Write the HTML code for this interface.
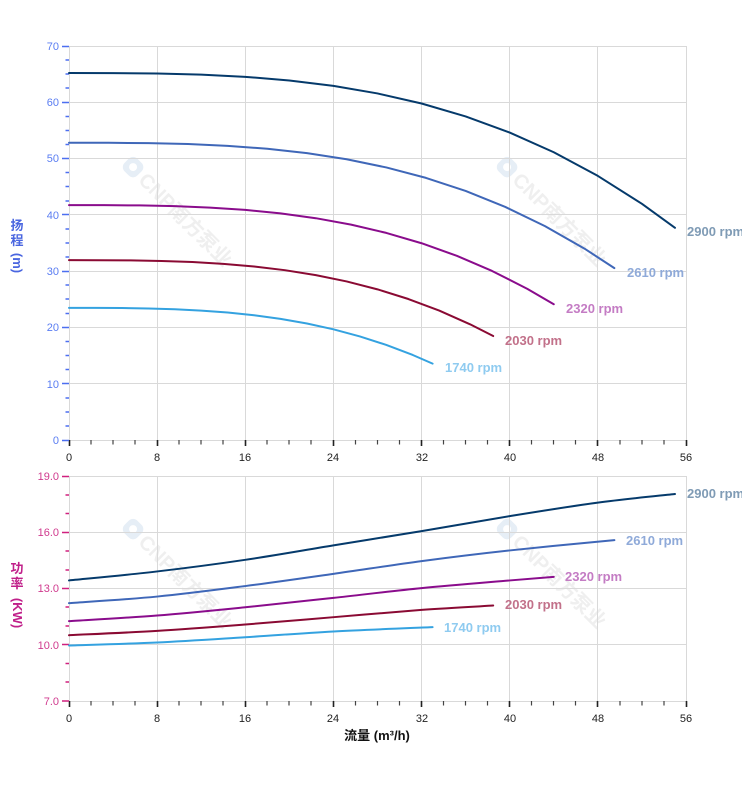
<!DOCTYPE html>
<html>
<head>
<meta charset="utf-8">
<style>
html,body{margin:0;padding:0;background:#fff;}
svg{display:block;font-family:"Liberation Sans",Arial,"Noto Sans CJK SC",sans-serif;}
</style>
</head>
<body>
<svg width="752" height="797" viewBox="0 0 752 797" xmlns="http://www.w3.org/2000/svg">
<defs>
<clipPath id="clip"><rect x="0" y="0" width="742" height="797"/></clipPath>
</defs>
<rect width="752" height="797" fill="#fff"/>

<!-- watermarks -->
<g font-family="'Liberation Sans','Noto Sans CJK SC',sans-serif" font-size="20" font-weight="bold" fill="#efefef">
  <g transform="translate(126,160) rotate(45)">
    <rect x="1" y="-9" width="18" height="18" rx="6" fill="#e6eef6"/><circle cx="10" cy="0" r="4" fill="#fff"/>
    <text x="23" y="7">CNP南方泵业</text>
  </g>
  <g transform="translate(500,160) rotate(45)">
    <rect x="1" y="-9" width="18" height="18" rx="6" fill="#e6eef6"/><circle cx="10" cy="0" r="4" fill="#fff"/>
    <text x="23" y="7">CNP南方泵业</text>
  </g>
  <g transform="translate(126,522) rotate(45)">
    <rect x="1" y="-9" width="18" height="18" rx="6" fill="#e6eef6"/><circle cx="10" cy="0" r="4" fill="#fff"/>
    <text x="23" y="7">CNP南方泵业</text>
  </g>
  <g transform="translate(500,522) rotate(45)">
    <rect x="1" y="-9" width="18" height="18" rx="6" fill="#e6eef6"/><circle cx="10" cy="0" r="4" fill="#fff"/>
    <text x="23" y="7">CNP南方泵业</text>
  </g>
</g>

<!-- grid -->
<g stroke="#d9d9d9" stroke-width="1" fill="none">
  <path d="M69.5,46V440M157.5,46V440M245.5,46V440M333.5,46V440M421.5,46V440M509.5,46V440M597.5,46V440M686.5,46V440"/>
  <path d="M69,46.5H686M69,102.5H686M69,158.5H686M69,214.5H686M69,271.5H686M69,327.5H686M69,383.5H686M69,440.5H686"/>
  <path d="M69.5,476V701M157.5,476V701M245.5,476V701M333.5,476V701M421.5,476V701M509.5,476V701M597.5,476V701M686.5,476V701"/>
  <path d="M69,476.5H686M69,532.5H686M69,588.5H686M69,644.5H686M69,701.5H686"/>
</g>

<!-- x ticks -->
<g fill="none">
  <path stroke="#222" stroke-width="1.6" d="M69.5,440V446M157.5,440V446M245.5,440V446M333.5,440V446M421.5,440V446M509.5,440V446M597.5,440V446M686.5,440V446M69.5,701V707M157.5,701V707M245.5,701V707M333.5,701V707M421.5,701V707M509.5,701V707M597.5,701V707M686.5,701V707"/>
  <path stroke="#444" stroke-width="1.2" d="M91,440V444.5M113,440V444.5M135,440V444.5M179,440V444.5M201,440V444.5M223,440V444.5M267,440V444.5M289,440V444.5M311,440V444.5M355.5,440V444.5M377.5,440V444.5M399.5,440V444.5M443.5,440V444.5M465.5,440V444.5M487.5,440V444.5M531.5,440V444.5M553.5,440V444.5M575.5,440V444.5M620,440V444.5M642,440V444.5M664,440V444.5
  M91,701V705.5M113,701V705.5M135,701V705.5M179,701V705.5M201,701V705.5M223,701V705.5M267,701V705.5M289,701V705.5M311,701V705.5M355.5,701V705.5M377.5,701V705.5M399.5,701V705.5M443.5,701V705.5M465.5,701V705.5M487.5,701V705.5M531.5,701V705.5M553.5,701V705.5M575.5,701V705.5M620,701V705.5M642,701V705.5M664,701V705.5"/>
</g>

<!-- y ticks top -->
<g fill="none" stroke="#4d6ff0" stroke-width="1.4">
  <path d="M62,46.5H69M62,102.5H69M62,158.5H69M62,214.5H69M62,271.5H69M62,327.5H69M62,383.5H69M62,440.5H69"/>
  <path d="M65.5,60H69M65.5,74H69M65.5,88H69M65.5,116.5H69M65.5,130.5H69M65.5,144.5H69M65.5,172.5H69M65.5,186.5H69M65.5,201H69M65.5,229H69M65.5,243H69M65.5,257H69M65.5,285H69M65.5,299H69M65.5,313.5H69M65.5,341.5H69M65.5,355.5H69M65.5,369.5H69M65.5,398H69M65.5,412H69M65.5,426H69"/>
</g>
<!-- y ticks bottom -->
<g fill="none" stroke="#d0207f" stroke-width="1.4">
  <path d="M62,476.5H69M62,532.5H69M62,588.5H69M62,644.5H69M62,701H69"/>
  <path d="M65.5,495H69M65.5,513.5H69M65.5,551H69M65.5,570H69M65.5,607H69M65.5,626H69M65.5,663.5H69M65.5,682H69"/>
</g>

<!-- head curves -->
<g fill="none" stroke-width="2" stroke-linejoin="round" stroke-linecap="round">
  <polyline stroke="#053a6b" points="69,73.02 113.07,73.08 157.14,73.49 201.21,74.62 245.29,76.83 289.36,80.46 333.43,85.88 377.5,93.44 421.57,103.5 465.64,116.42 509.71,132.56 553.79,152.27 597.86,175.91 641.93,203.84 674.98,227.81"/>
  <polyline stroke="#3f67b8" points="69,142.75 108.66,142.79 148.33,143.13 187.99,144.04 227.66,145.83 267.32,148.77 306.99,153.16 346.65,159.29 386.31,167.43 425.98,177.9 465.64,190.97 505.31,206.94 544.97,226.09 584.64,248.71 614.38,268.13"/>
  <polyline stroke="#8a0c8c" points="69,205.13 104.26,205.17 139.51,205.43 174.77,206.16 210.03,207.57 245.29,209.89 280.54,213.36 315.8,218.2 351.06,224.64 386.31,232.91 421.57,243.24 456.83,255.85 492.09,270.98 527.34,288.86 553.78,304.2"/>
  <polyline stroke="#8a0a33" points="69,260.18 99.85,260.21 130.7,260.41 161.55,260.96 192.4,262.05 223.25,263.83 254.1,266.48 284.95,270.19 315.8,275.11 346.65,281.45 377.5,289.35 408.35,299.01 439.2,310.6 470.05,324.28 493.19,336.03"/>
  <polyline stroke="#34a2e0" points="69,307.89 95.44,307.91 121.88,308.06 148.33,308.46 174.77,309.26 201.22,310.57 227.66,312.52 254.1,315.24 280.54,318.86 306.98,323.51 333.43,329.32 359.87,336.42 386.32,344.93 412.76,354.98 432.59,363.61"/>
</g>

<!-- power curves -->
<g fill="none" stroke-width="2" stroke-linecap="round">
  <path stroke="#053a6b" d="M69,580.44 C83.69,578.94 127.76,574.88 157.14,571.44 C186.52,568 215.91,564.16 245.29,559.81 C274.67,555.46 304.05,550.15 333.43,545.37 C362.81,540.59 392.19,536 421.57,531.12 C450.95,526.24 480.33,520.87 509.71,516.12 C539.09,511.37 570.31,506.31 597.86,502.62 C625.41,498.93 662.13,495.44 674.98,494"/>
  <path stroke="#3f67b8" d="M69,603.12 C83.69,602.03 127.76,599.4 157.14,596.56 C186.52,593.72 215.91,589.84 245.29,586.06 C274.67,582.28 304.05,578.03 333.43,573.87 C362.81,569.71 392.19,565.03 421.57,561.12 C450.95,557.21 477.57,553.94 509.71,550.44 C541.85,546.94 596.94,541.84 614.39,540.12"/>
  <path stroke="#8a0c8c" d="M69,621.12 C83.69,620.18 127.76,617.81 157.14,615.5 C186.52,613.19 215.91,610.19 245.29,607.25 C274.67,604.31 304.05,601.06 333.43,597.87 C362.81,594.68 392.19,591.03 421.57,588.12 C450.95,585.21 487.67,582.32 509.71,580.44 C531.75,578.56 546.44,577.47 553.79,576.87"/>
  <path stroke="#8a0a33" d="M69,635.19 C83.69,634.47 127.76,632.65 157.14,630.87 C186.52,629.09 215.91,626.78 245.29,624.5 C274.67,622.22 304.05,619.63 333.43,617.19 C362.81,614.75 394.94,611.81 421.57,609.87 C448.2,607.93 481.25,606.28 493.19,605.56"/>
  <path stroke="#34a2e0" d="M69,645.5 C83.69,645 127.76,643.88 157.14,642.5 C186.52,641.12 215.91,639.09 245.29,637.25 C274.67,635.41 302.21,633.13 333.43,631.44 C364.65,629.75 416.06,627.84 432.59,627.12"/>
</g>

<!-- top y labels -->
<g font-size="11" fill="#5a7df2" text-anchor="end">
  <text x="59" y="50">70</text>
  <text x="59" y="106">60</text>
  <text x="59" y="162">50</text>
  <text x="59" y="219">40</text>
  <text x="59" y="275">30</text>
  <text x="59" y="331">20</text>
  <text x="59" y="388">10</text>
  <text x="59" y="444">0</text>
</g>
<!-- bottom y labels -->
<g font-size="11" fill="#d03a8e" text-anchor="end">
  <text x="59" y="480">19.0</text>
  <text x="59" y="536">16.0</text>
  <text x="59" y="592">13.0</text>
  <text x="59" y="649">10.0</text>
  <text x="59" y="705">7.0</text>
</g>
<!-- x labels -->
<g font-size="11" fill="#222" text-anchor="middle">
  <text x="69" y="461">0</text>
  <text x="157" y="461">8</text>
  <text x="245" y="461">16</text>
  <text x="333" y="461">24</text>
  <text x="422" y="461">32</text>
  <text x="510" y="461">40</text>
  <text x="598" y="461">48</text>
  <text x="686" y="461">56</text>
  <text x="69" y="722">0</text>
  <text x="157" y="722">8</text>
  <text x="245" y="722">16</text>
  <text x="333" y="722">24</text>
  <text x="422" y="722">32</text>
  <text x="510" y="722">40</text>
  <text x="598" y="722">48</text>
  <text x="686" y="722">56</text>
</g>

<!-- axis titles -->
<g font-size="13" font-weight="bold" fill="#4a66e0" text-anchor="middle" font-family="'Liberation Sans','Noto Sans CJK SC',sans-serif">
  <text x="17" y="230">扬</text>
  <text x="17" y="245">程</text>
  <text transform="translate(13,263) rotate(90)" text-anchor="middle">(m)</text>
</g>
<g font-size="13" font-weight="bold" fill="#c0208a" text-anchor="middle" font-family="'Liberation Sans','Noto Sans CJK SC',sans-serif">
  <text x="17" y="573">功</text>
  <text x="17" y="588">率</text>
  <text transform="translate(13,613) rotate(90)" text-anchor="middle">(KW)</text>
</g>
<text x="377" y="740" font-size="13" font-weight="bold" fill="#111" text-anchor="middle" font-family="'Liberation Sans','Noto Sans CJK SC',sans-serif">流量 (m³/h)</text>

<!-- series labels -->
<g clip-path="url(#clip)" font-size="13" font-weight="bold">
  <text x="687" y="236" fill="#7f9bb5">2900 rpm</text>
  <text x="627" y="277" fill="#8faad9">2610 rpm</text>
  <text x="566" y="313" fill="#c47cc4">2320 rpm</text>
  <text x="505" y="345" fill="#c2718a">2030 rpm</text>
  <text x="445" y="372" fill="#8fcbf0">1740 rpm</text>

  <text x="687" y="498" fill="#7f9bb5">2900 rpm</text>
  <text x="626" y="545" fill="#8faad9">2610 rpm</text>
  <text x="565" y="581" fill="#c47cc4">2320 rpm</text>
  <text x="505" y="609" fill="#c2718a">2030 rpm</text>
  <text x="444" y="632" fill="#8fcbf0">1740 rpm</text>
</g>
</svg>
</body>
</html>
